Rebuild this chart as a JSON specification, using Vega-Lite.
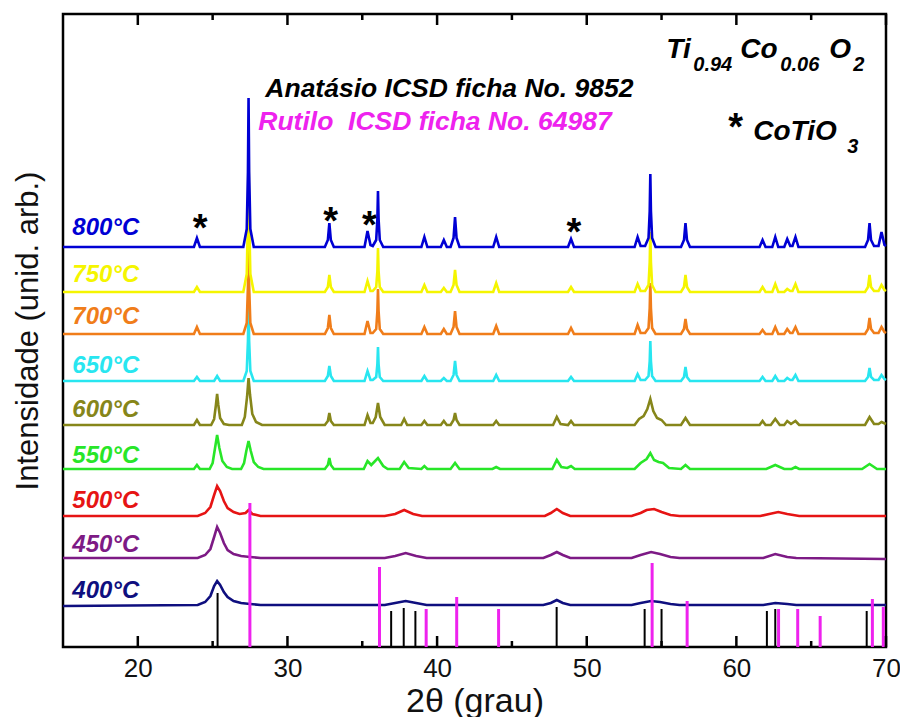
{
"$schema":"https://vega.github.io/schema/vega-lite/v6.json",
"width":823,"height":633,
"autosize":{"type":"none"},
"padding":{"left":63,"top":14,"right":14,"bottom":70},
"background":"white",
"config":{"view":{"stroke":"black","strokeWidth":2.5},"font":"Liberation Sans"},
"datasets":{
"tr":[
{"s":"400°C","x":15,"y":41},{"s":"400°C","x":24.0,"y":42},{"s":"400°C","x":24.5,"y":45},{"s":"400°C","x":24.85,"y":51},{"s":"400°C","x":25.1,"y":61},{"s":"400°C","x":25.3,"y":66},{"s":"400°C","x":25.5,"y":62},{"s":"400°C","x":25.75,"y":55},{"s":"400°C","x":26.0,"y":50},{"s":"400°C","x":26.4,"y":46},{"s":"400°C","x":26.9,"y":44},{"s":"400°C","x":27.5,"y":43},{"s":"400°C","x":28.2,"y":42},{"s":"400°C","x":36.5,"y":42},{"s":"400°C","x":37.2,"y":44},{"s":"400°C","x":37.9,"y":46},{"s":"400°C","x":38.6,"y":44},{"s":"400°C","x":39.3,"y":42},{"s":"400°C","x":47.1,"y":42},{"s":"400°C","x":47.6,"y":44},{"s":"400°C","x":48.0,"y":47},{"s":"400°C","x":48.4,"y":44},{"s":"400°C","x":48.9,"y":42},{"s":"400°C","x":53.0,"y":42},{"s":"400°C","x":53.6,"y":44},{"s":"400°C","x":54.3,"y":46},{"s":"400°C","x":54.9,"y":45},{"s":"400°C","x":55.6,"y":43},{"s":"400°C","x":56.2,"y":42},{"s":"400°C","x":61.8,"y":42},{"s":"400°C","x":62.6,"y":44},{"s":"400°C","x":63.4,"y":43},{"s":"400°C","x":64.0,"y":42},{"s":"400°C","x":70,"y":42},
{"s":"450°C","x":15,"y":89},{"s":"450°C","x":24.0,"y":89},{"s":"450°C","x":24.5,"y":92},{"s":"450°C","x":24.85,"y":98},{"s":"450°C","x":25.1,"y":110},{"s":"450°C","x":25.3,"y":120},{"s":"450°C","x":25.5,"y":114},{"s":"450°C","x":25.75,"y":104},{"s":"450°C","x":26.0,"y":97},{"s":"450°C","x":26.4,"y":93},{"s":"450°C","x":26.9,"y":91},{"s":"450°C","x":27.5,"y":90},{"s":"450°C","x":28.2,"y":89},{"s":"450°C","x":36.5,"y":89},{"s":"450°C","x":37.2,"y":91},{"s":"450°C","x":37.9,"y":94},{"s":"450°C","x":38.6,"y":91},{"s":"450°C","x":39.3,"y":89},{"s":"450°C","x":47.1,"y":89},{"s":"450°C","x":47.6,"y":92},{"s":"450°C","x":48.0,"y":95},{"s":"450°C","x":48.4,"y":92},{"s":"450°C","x":48.9,"y":89},{"s":"450°C","x":53.0,"y":89},{"s":"450°C","x":53.6,"y":92},{"s":"450°C","x":54.3,"y":95},{"s":"450°C","x":54.9,"y":93},{"s":"450°C","x":55.6,"y":90},{"s":"450°C","x":56.2,"y":89},{"s":"450°C","x":61.8,"y":89},{"s":"450°C","x":62.6,"y":93},{"s":"450°C","x":63.4,"y":90},{"s":"450°C","x":64.0,"y":89},{"s":"450°C","x":70,"y":88},
{"s":"500°C","x":15,"y":131},{"s":"500°C","x":24.0,"y":131},{"s":"500°C","x":24.5,"y":134},{"s":"500°C","x":24.85,"y":140},{"s":"500°C","x":25.1,"y":152},{"s":"500°C","x":25.3,"y":161},{"s":"500°C","x":25.5,"y":156},{"s":"500°C","x":25.75,"y":146},{"s":"500°C","x":26.0,"y":139},{"s":"500°C","x":26.4,"y":135},{"s":"500°C","x":26.8,"y":133},{"s":"500°C","x":27.2,"y":134},{"s":"500°C","x":27.4,"y":137},{"s":"500°C","x":27.65,"y":133},{"s":"500°C","x":28.2,"y":131},{"s":"500°C","x":36.5,"y":131},{"s":"500°C","x":37.2,"y":133},{"s":"500°C","x":37.8,"y":137},{"s":"500°C","x":38.4,"y":133},{"s":"500°C","x":39.0,"y":131},{"s":"500°C","x":47.2,"y":131},{"s":"500°C","x":47.6,"y":134},{"s":"500°C","x":48.0,"y":138},{"s":"500°C","x":48.4,"y":134},{"s":"500°C","x":48.9,"y":131},{"s":"500°C","x":53.0,"y":131},{"s":"500°C","x":53.6,"y":134},{"s":"500°C","x":54.0,"y":137},{"s":"500°C","x":54.5,"y":138},{"s":"500°C","x":55.0,"y":135},{"s":"500°C","x":55.6,"y":132},{"s":"500°C","x":56.2,"y":131},{"s":"500°C","x":61.6,"y":131},{"s":"500°C","x":62.2,"y":133},{"s":"500°C","x":62.8,"y":135},{"s":"500°C","x":63.4,"y":133},{"s":"500°C","x":64.2,"y":131},{"s":"500°C","x":70,"y":131},
{"s":"550°C","x":15,"y":178},{"s":"550°C","x":23.75,"y":178},{"s":"550°C","x":23.95,"y":182},{"s":"550°C","x":24.15,"y":178},{"s":"550°C","x":24.8,"y":178},{"s":"550°C","x":25.0,"y":184},{"s":"550°C","x":25.15,"y":198},{"s":"550°C","x":25.3,"y":212},{"s":"550°C","x":25.45,"y":199},{"s":"550°C","x":25.65,"y":186},{"s":"550°C","x":25.95,"y":180},{"s":"550°C","x":26.3,"y":178},{"s":"550°C","x":26.9,"y":178},{"s":"550°C","x":27.1,"y":184},{"s":"550°C","x":27.25,"y":196},{"s":"550°C","x":27.4,"y":206},{"s":"550°C","x":27.55,"y":196},{"s":"550°C","x":27.75,"y":185},{"s":"550°C","x":28.05,"y":180},{"s":"550°C","x":28.4,"y":178},{"s":"550°C","x":32.5,"y":178},{"s":"550°C","x":32.7,"y":182},{"s":"550°C","x":32.8,"y":189},{"s":"550°C","x":32.9,"y":182},{"s":"550°C","x":33.1,"y":178},{"s":"550°C","x":35.1,"y":178},{"s":"550°C","x":35.35,"y":186},{"s":"550°C","x":35.6,"y":182},{"s":"550°C","x":36.05,"y":189},{"s":"550°C","x":36.4,"y":181},{"s":"550°C","x":36.7,"y":178},{"s":"550°C","x":37.5,"y":178},{"s":"550°C","x":37.8,"y":185},{"s":"550°C","x":38.1,"y":179},{"s":"550°C","x":38.95,"y":178},{"s":"550°C","x":39.15,"y":181},{"s":"550°C","x":39.35,"y":178},{"s":"550°C","x":40.9,"y":178},{"s":"550°C","x":41.2,"y":184},{"s":"550°C","x":41.5,"y":178},{"s":"550°C","x":43.7,"y":178},{"s":"550°C","x":43.95,"y":180},{"s":"550°C","x":44.2,"y":178},{"s":"550°C","x":47.7,"y":178},{"s":"550°C","x":48.0,"y":187},{"s":"550°C","x":48.3,"y":180},{"s":"550°C","x":48.7,"y":179},{"s":"550°C","x":48.95,"y":181},{"s":"550°C","x":49.2,"y":178},{"s":"550°C","x":53.2,"y":178},{"s":"550°C","x":53.6,"y":184},{"s":"550°C","x":54.0,"y":188},{"s":"550°C","x":54.25,"y":194},{"s":"550°C","x":54.5,"y":187},{"s":"550°C","x":54.8,"y":185},{"s":"550°C","x":55.1,"y":184},{"s":"550°C","x":55.5,"y":179},{"s":"550°C","x":56.3,"y":178},{"s":"550°C","x":56.6,"y":182},{"s":"550°C","x":56.9,"y":178},{"s":"550°C","x":62.0,"y":178},{"s":"550°C","x":62.6,"y":182},{"s":"550°C","x":63.2,"y":178},{"s":"550°C","x":63.7,"y":178},{"s":"550°C","x":63.95,"y":180},{"s":"550°C","x":64.2,"y":178},{"s":"550°C","x":68.4,"y":178},{"s":"550°C","x":68.9,"y":183},{"s":"550°C","x":69.4,"y":178},{"s":"550°C","x":70,"y":178},
{"s":"600°C","x":15,"y":222},{"s":"600°C","x":23.75,"y":222},{"s":"600°C","x":23.95,"y":227},{"s":"600°C","x":24.15,"y":222},{"s":"600°C","x":24.9,"y":222},{"s":"600°C","x":25.1,"y":228},{"s":"600°C","x":25.22,"y":242},{"s":"600°C","x":25.3,"y":253},{"s":"600°C","x":25.38,"y":242},{"s":"600°C","x":25.5,"y":229},{"s":"600°C","x":25.75,"y":223},{"s":"600°C","x":26.1,"y":222},{"s":"600°C","x":26.95,"y":222},{"s":"600°C","x":27.15,"y":230},{"s":"600°C","x":27.3,"y":250},{"s":"600°C","x":27.4,"y":269},{"s":"600°C","x":27.5,"y":252},{"s":"600°C","x":27.65,"y":233},{"s":"600°C","x":27.9,"y":225},{"s":"600°C","x":28.3,"y":222},{"s":"600°C","x":32.5,"y":222},{"s":"600°C","x":32.7,"y":226},{"s":"600°C","x":32.8,"y":234},{"s":"600°C","x":32.9,"y":226},{"s":"600°C","x":33.1,"y":222},{"s":"600°C","x":35.15,"y":222},{"s":"600°C","x":35.35,"y":232},{"s":"600°C","x":35.55,"y":224},{"s":"600°C","x":35.7,"y":224},{"s":"600°C","x":35.9,"y":230},{"s":"600°C","x":36.05,"y":244},{"s":"600°C","x":36.2,"y":230},{"s":"600°C","x":36.5,"y":222},{"s":"600°C","x":37.6,"y":222},{"s":"600°C","x":37.8,"y":228},{"s":"600°C","x":38.0,"y":222},{"s":"600°C","x":38.95,"y":222},{"s":"600°C","x":39.15,"y":226},{"s":"600°C","x":39.35,"y":222},{"s":"600°C","x":40.25,"y":222},{"s":"600°C","x":40.45,"y":226},{"s":"600°C","x":40.65,"y":222},{"s":"600°C","x":40.9,"y":222},{"s":"600°C","x":41.1,"y":227},{"s":"600°C","x":41.2,"y":234},{"s":"600°C","x":41.3,"y":227},{"s":"600°C","x":41.5,"y":222},{"s":"600°C","x":43.75,"y":222},{"s":"600°C","x":43.95,"y":226},{"s":"600°C","x":44.15,"y":222},{"s":"600°C","x":47.75,"y":222},{"s":"600°C","x":48.0,"y":230},{"s":"600°C","x":48.25,"y":223},{"s":"600°C","x":48.75,"y":222},{"s":"600°C","x":48.95,"y":226},{"s":"600°C","x":49.15,"y":222},{"s":"600°C","x":53.2,"y":222},{"s":"600°C","x":53.5,"y":228},{"s":"600°C","x":53.8,"y":231},{"s":"600°C","x":54.05,"y":238},{"s":"600°C","x":54.25,"y":248},{"s":"600°C","x":54.45,"y":236},{"s":"600°C","x":54.7,"y":229},{"s":"600°C","x":55.0,"y":227},{"s":"600°C","x":55.3,"y":222},{"s":"600°C","x":56.3,"y":222},{"s":"600°C","x":56.6,"y":229},{"s":"600°C","x":56.9,"y":222},{"s":"600°C","x":61.55,"y":222},{"s":"600°C","x":61.75,"y":226},{"s":"600°C","x":61.95,"y":222},{"s":"600°C","x":62.3,"y":222},{"s":"600°C","x":62.6,"y":228},{"s":"600°C","x":62.9,"y":222},{"s":"600°C","x":63.2,"y":222},{"s":"600°C","x":63.4,"y":226},{"s":"600°C","x":63.65,"y":223},{"s":"600°C","x":63.95,"y":226},{"s":"600°C","x":64.2,"y":222},{"s":"600°C","x":68.6,"y":222},{"s":"600°C","x":68.9,"y":230},{"s":"600°C","x":69.2,"y":223},{"s":"600°C","x":69.5,"y":223},{"s":"600°C","x":69.7,"y":225},{"s":"600°C","x":70,"y":223},
{"s":"650°C","x":15,"y":266},{"s":"650°C","x":23.75,"y":266},{"s":"650°C","x":23.95,"y":270},{"s":"650°C","x":24.15,"y":266},{"s":"650°C","x":25.1,"y":266},{"s":"650°C","x":25.3,"y":271},{"s":"650°C","x":25.5,"y":266},{"s":"650°C","x":27.05,"y":266},{"s":"650°C","x":27.28,"y":276},{"s":"650°C","x":27.36,"y":306},{"s":"650°C","x":27.4,"y":346},{"s":"650°C","x":27.44,"y":306},{"s":"650°C","x":27.52,"y":276},{"s":"650°C","x":27.75,"y":266},{"s":"650°C","x":32.5,"y":266},{"s":"650°C","x":32.7,"y":271},{"s":"650°C","x":32.8,"y":281},{"s":"650°C","x":32.9,"y":271},{"s":"650°C","x":33.1,"y":266},{"s":"650°C","x":35.15,"y":266},{"s":"650°C","x":35.35,"y":276},{"s":"650°C","x":35.55,"y":267},{"s":"650°C","x":35.7,"y":267},{"s":"650°C","x":35.93,"y":270},{"s":"650°C","x":36.01,"y":283},{"s":"650°C","x":36.05,"y":300},{"s":"650°C","x":36.09,"y":283},{"s":"650°C","x":36.17,"y":270},{"s":"650°C","x":36.4,"y":266},{"s":"650°C","x":38.95,"y":266},{"s":"650°C","x":39.15,"y":271},{"s":"650°C","x":39.35,"y":266},{"s":"650°C","x":40.25,"y":266},{"s":"650°C","x":40.45,"y":269},{"s":"650°C","x":40.65,"y":266},{"s":"650°C","x":40.9,"y":266},{"s":"650°C","x":41.1,"y":272},{"s":"650°C","x":41.2,"y":286},{"s":"650°C","x":41.3,"y":272},{"s":"650°C","x":41.5,"y":266},{"s":"650°C","x":43.75,"y":266},{"s":"650°C","x":43.95,"y":272},{"s":"650°C","x":44.15,"y":266},{"s":"650°C","x":48.75,"y":266},{"s":"650°C","x":48.95,"y":270},{"s":"650°C","x":49.15,"y":266},{"s":"650°C","x":53.2,"y":266},{"s":"650°C","x":53.4,"y":273},{"s":"650°C","x":53.6,"y":267},{"s":"650°C","x":53.9,"y":267},{"s":"650°C","x":54.13,"y":271},{"s":"650°C","x":54.21,"y":286},{"s":"650°C","x":54.25,"y":306},{"s":"650°C","x":54.29,"y":286},{"s":"650°C","x":54.37,"y":271},{"s":"650°C","x":54.6,"y":266},{"s":"650°C","x":56.3,"y":266},{"s":"650°C","x":56.5,"y":270},{"s":"650°C","x":56.6,"y":280},{"s":"650°C","x":56.7,"y":270},{"s":"650°C","x":56.9,"y":266},{"s":"650°C","x":61.55,"y":266},{"s":"650°C","x":61.75,"y":270},{"s":"650°C","x":61.95,"y":266},{"s":"650°C","x":62.4,"y":266},{"s":"650°C","x":62.6,"y":271},{"s":"650°C","x":62.8,"y":266},{"s":"650°C","x":63.2,"y":266},{"s":"650°C","x":63.4,"y":269},{"s":"650°C","x":63.6,"y":267},{"s":"650°C","x":63.75,"y":267},{"s":"650°C","x":63.95,"y":272},{"s":"650°C","x":64.15,"y":266},{"s":"650°C","x":68.6,"y":266},{"s":"650°C","x":68.8,"y":270},{"s":"650°C","x":68.9,"y":279},{"s":"650°C","x":69.0,"y":270},{"s":"650°C","x":69.2,"y":267},{"s":"650°C","x":69.5,"y":267},{"s":"650°C","x":69.7,"y":272},{"s":"650°C","x":69.9,"y":268},{"s":"650°C","x":70,"y":267},
{"s":"700°C","x":15,"y":313},{"s":"700°C","x":23.75,"y":313},{"s":"700°C","x":23.95,"y":320},{"s":"700°C","x":24.15,"y":313},{"s":"700°C","x":27.05,"y":313},{"s":"700°C","x":27.28,"y":324},{"s":"700°C","x":27.36,"y":361},{"s":"700°C","x":27.4,"y":408},{"s":"700°C","x":27.44,"y":361},{"s":"700°C","x":27.52,"y":324},{"s":"700°C","x":27.75,"y":313},{"s":"700°C","x":32.5,"y":313},{"s":"700°C","x":32.7,"y":319},{"s":"700°C","x":32.8,"y":332},{"s":"700°C","x":32.9,"y":319},{"s":"700°C","x":33.1,"y":313},{"s":"700°C","x":35.15,"y":313},{"s":"700°C","x":35.35,"y":326},{"s":"700°C","x":35.55,"y":314},{"s":"700°C","x":35.7,"y":314},{"s":"700°C","x":35.93,"y":318},{"s":"700°C","x":36.01,"y":336},{"s":"700°C","x":36.05,"y":358},{"s":"700°C","x":36.09,"y":336},{"s":"700°C","x":36.17,"y":318},{"s":"700°C","x":36.4,"y":313},{"s":"700°C","x":38.95,"y":313},{"s":"700°C","x":39.15,"y":320},{"s":"700°C","x":39.35,"y":313},{"s":"700°C","x":40.25,"y":313},{"s":"700°C","x":40.45,"y":318},{"s":"700°C","x":40.65,"y":313},{"s":"700°C","x":40.9,"y":313},{"s":"700°C","x":41.1,"y":320},{"s":"700°C","x":41.2,"y":336},{"s":"700°C","x":41.3,"y":320},{"s":"700°C","x":41.5,"y":313},{"s":"700°C","x":43.75,"y":313},{"s":"700°C","x":43.95,"y":321},{"s":"700°C","x":44.15,"y":313},{"s":"700°C","x":48.75,"y":313},{"s":"700°C","x":48.95,"y":319},{"s":"700°C","x":49.15,"y":313},{"s":"700°C","x":53.2,"y":313},{"s":"700°C","x":53.4,"y":322},{"s":"700°C","x":53.6,"y":314},{"s":"700°C","x":53.9,"y":314},{"s":"700°C","x":54.13,"y":319},{"s":"700°C","x":54.21,"y":339},{"s":"700°C","x":54.25,"y":364},{"s":"700°C","x":54.29,"y":339},{"s":"700°C","x":54.37,"y":319},{"s":"700°C","x":54.6,"y":313},{"s":"700°C","x":56.3,"y":313},{"s":"700°C","x":56.5,"y":318},{"s":"700°C","x":56.6,"y":328},{"s":"700°C","x":56.7,"y":318},{"s":"700°C","x":56.9,"y":313},{"s":"700°C","x":61.55,"y":313},{"s":"700°C","x":61.75,"y":317},{"s":"700°C","x":61.95,"y":313},{"s":"700°C","x":62.4,"y":313},{"s":"700°C","x":62.6,"y":320},{"s":"700°C","x":62.8,"y":313},{"s":"700°C","x":63.2,"y":313},{"s":"700°C","x":63.4,"y":318},{"s":"700°C","x":63.6,"y":314},{"s":"700°C","x":63.75,"y":314},{"s":"700°C","x":63.95,"y":320},{"s":"700°C","x":64.15,"y":313},{"s":"700°C","x":68.6,"y":313},{"s":"700°C","x":68.8,"y":318},{"s":"700°C","x":68.9,"y":329},{"s":"700°C","x":69.0,"y":318},{"s":"700°C","x":69.2,"y":314},{"s":"700°C","x":69.5,"y":314},{"s":"700°C","x":69.7,"y":320},{"s":"700°C","x":69.9,"y":315},{"s":"700°C","x":70,"y":314},
{"s":"750°C","x":15,"y":355},{"s":"750°C","x":23.75,"y":355},{"s":"750°C","x":23.95,"y":360},{"s":"750°C","x":24.15,"y":355},{"s":"750°C","x":27.05,"y":355},{"s":"750°C","x":27.28,"y":373},{"s":"750°C","x":27.36,"y":430},{"s":"750°C","x":27.4,"y":505},{"s":"750°C","x":27.44,"y":430},{"s":"750°C","x":27.52,"y":373},{"s":"750°C","x":27.75,"y":355},{"s":"750°C","x":32.5,"y":355},{"s":"750°C","x":32.7,"y":360},{"s":"750°C","x":32.8,"y":372},{"s":"750°C","x":32.9,"y":360},{"s":"750°C","x":33.1,"y":355},{"s":"750°C","x":35.15,"y":355},{"s":"750°C","x":35.35,"y":366},{"s":"750°C","x":35.55,"y":356},{"s":"750°C","x":35.7,"y":356},{"s":"750°C","x":35.93,"y":360},{"s":"750°C","x":36.01,"y":376},{"s":"750°C","x":36.05,"y":399},{"s":"750°C","x":36.09,"y":376},{"s":"750°C","x":36.17,"y":360},{"s":"750°C","x":36.4,"y":355},{"s":"750°C","x":38.95,"y":355},{"s":"750°C","x":39.15,"y":362},{"s":"750°C","x":39.35,"y":355},{"s":"750°C","x":40.25,"y":355},{"s":"750°C","x":40.45,"y":359},{"s":"750°C","x":40.65,"y":355},{"s":"750°C","x":40.9,"y":355},{"s":"750°C","x":41.1,"y":362},{"s":"750°C","x":41.2,"y":377},{"s":"750°C","x":41.3,"y":362},{"s":"750°C","x":41.5,"y":355},{"s":"750°C","x":43.75,"y":355},{"s":"750°C","x":43.95,"y":364},{"s":"750°C","x":44.15,"y":355},{"s":"750°C","x":48.75,"y":355},{"s":"750°C","x":48.95,"y":360},{"s":"750°C","x":49.15,"y":355},{"s":"750°C","x":53.2,"y":355},{"s":"750°C","x":53.4,"y":363},{"s":"750°C","x":53.6,"y":356},{"s":"750°C","x":53.9,"y":356},{"s":"750°C","x":54.13,"y":362},{"s":"750°C","x":54.21,"y":385},{"s":"750°C","x":54.25,"y":415},{"s":"750°C","x":54.29,"y":385},{"s":"750°C","x":54.37,"y":362},{"s":"750°C","x":54.6,"y":355},{"s":"750°C","x":56.3,"y":355},{"s":"750°C","x":56.5,"y":360},{"s":"750°C","x":56.6,"y":372},{"s":"750°C","x":56.7,"y":360},{"s":"750°C","x":56.9,"y":355},{"s":"750°C","x":61.55,"y":355},{"s":"750°C","x":61.75,"y":360},{"s":"750°C","x":61.95,"y":355},{"s":"750°C","x":62.4,"y":355},{"s":"750°C","x":62.6,"y":363},{"s":"750°C","x":62.8,"y":355},{"s":"750°C","x":63.2,"y":355},{"s":"750°C","x":63.4,"y":358},{"s":"750°C","x":63.6,"y":356},{"s":"750°C","x":63.75,"y":356},{"s":"750°C","x":63.95,"y":363},{"s":"750°C","x":64.15,"y":355},{"s":"750°C","x":68.6,"y":355},{"s":"750°C","x":68.8,"y":360},{"s":"750°C","x":68.9,"y":372},{"s":"750°C","x":69.0,"y":360},{"s":"750°C","x":69.2,"y":356},{"s":"750°C","x":69.5,"y":356},{"s":"750°C","x":69.7,"y":362},{"s":"750°C","x":69.9,"y":357},{"s":"750°C","x":70,"y":356},
{"s":"800°C","x":15,"y":400},{"s":"800°C","x":23.75,"y":400},{"s":"800°C","x":23.95,"y":409},{"s":"800°C","x":24.15,"y":400},{"s":"800°C","x":27.05,"y":400},{"s":"800°C","x":27.28,"y":418},{"s":"800°C","x":27.36,"y":475},{"s":"800°C","x":27.4,"y":549},{"s":"800°C","x":27.44,"y":475},{"s":"800°C","x":27.52,"y":418},{"s":"800°C","x":27.75,"y":400},{"s":"800°C","x":32.5,"y":400},{"s":"800°C","x":32.7,"y":407},{"s":"800°C","x":32.8,"y":424},{"s":"800°C","x":32.9,"y":407},{"s":"800°C","x":33.1,"y":400},{"s":"800°C","x":35.15,"y":400},{"s":"800°C","x":35.35,"y":416},{"s":"800°C","x":35.55,"y":402},{"s":"800°C","x":35.7,"y":401},{"s":"800°C","x":35.93,"y":407},{"s":"800°C","x":36.01,"y":428},{"s":"800°C","x":36.05,"y":456},{"s":"800°C","x":36.09,"y":428},{"s":"800°C","x":36.17,"y":407},{"s":"800°C","x":36.4,"y":400},{"s":"800°C","x":38.95,"y":400},{"s":"800°C","x":39.15,"y":410},{"s":"800°C","x":39.35,"y":400},{"s":"800°C","x":40.25,"y":400},{"s":"800°C","x":40.45,"y":407},{"s":"800°C","x":40.65,"y":400},{"s":"800°C","x":40.9,"y":400},{"s":"800°C","x":41.1,"y":409},{"s":"800°C","x":41.2,"y":430},{"s":"800°C","x":41.3,"y":409},{"s":"800°C","x":41.5,"y":400},{"s":"800°C","x":43.75,"y":400},{"s":"800°C","x":43.95,"y":410},{"s":"800°C","x":44.15,"y":400},{"s":"800°C","x":48.75,"y":400},{"s":"800°C","x":48.95,"y":408},{"s":"800°C","x":49.15,"y":400},{"s":"800°C","x":53.2,"y":400},{"s":"800°C","x":53.4,"y":410},{"s":"800°C","x":53.6,"y":401},{"s":"800°C","x":53.9,"y":401},{"s":"800°C","x":54.13,"y":409},{"s":"800°C","x":54.21,"y":436},{"s":"800°C","x":54.25,"y":473},{"s":"800°C","x":54.29,"y":436},{"s":"800°C","x":54.37,"y":409},{"s":"800°C","x":54.6,"y":400},{"s":"800°C","x":56.3,"y":400},{"s":"800°C","x":56.5,"y":407},{"s":"800°C","x":56.6,"y":424},{"s":"800°C","x":56.7,"y":407},{"s":"800°C","x":56.9,"y":400},{"s":"800°C","x":61.55,"y":400},{"s":"800°C","x":61.75,"y":407},{"s":"800°C","x":61.95,"y":400},{"s":"800°C","x":62.4,"y":400},{"s":"800°C","x":62.6,"y":410},{"s":"800°C","x":62.8,"y":400},{"s":"800°C","x":63.2,"y":400},{"s":"800°C","x":63.4,"y":408},{"s":"800°C","x":63.6,"y":401},{"s":"800°C","x":63.75,"y":401},{"s":"800°C","x":63.95,"y":410},{"s":"800°C","x":64.15,"y":400},{"s":"800°C","x":68.6,"y":400},{"s":"800°C","x":68.8,"y":407},{"s":"800°C","x":68.9,"y":424},{"s":"800°C","x":69.0,"y":407},{"s":"800°C","x":69.2,"y":401},{"s":"800°C","x":69.5,"y":401},{"s":"800°C","x":69.7,"y":415},{"s":"800°C","x":69.9,"y":402},{"s":"800°C","x":70,"y":401}
],
"an":[{"x":25.33,"h":54},{"x":36.93,"h":36},{"x":37.77,"h":39},{"x":38.55,"h":36},{"x":47.99,"h":40},{"x":53.87,"h":38},{"x":55.0,"h":38},{"x":62.04,"h":36},{"x":62.6,"h":38},{"x":68.71,"h":36}],
"ru":[{"x":27.49,"h":144},{"x":36.15,"h":80},{"x":39.27,"h":38},{"x":41.31,"h":50},{"x":44.11,"h":38},{"x":54.37,"h":84},{"x":56.71,"h":46},{"x":62.82,"h":38},{"x":64.1,"h":38},{"x":65.6,"h":31},{"x":69.09,"h":48},{"x":69.82,"h":40}],
"major":[{"x":20,"e":0},{"x":30,"e":0},{"x":40,"e":0},{"x":50,"e":0},{"x":60,"e":0},{"x":70,"e":0},{"x":20,"e":633},{"x":30,"e":633},{"x":40,"e":633},{"x":50,"e":633},{"x":60,"e":633},{"x":70,"e":633}],
"minor":[{"x":25,"e":0},{"x":35,"e":0},{"x":45,"e":0},{"x":55,"e":0},{"x":65,"e":0},{"x":25,"e":633},{"x":35,"e":633},{"x":45,"e":633},{"x":55,"e":633},{"x":65,"e":633}],
"lb":[{"t":"800°C","x":15.62,"y":412,"c":"#0000d4"},{"t":"750°C","x":15.62,"y":365,"c":"#f5f500"},{"t":"700°C","x":15.62,"y":323,"c":"#f07d1a"},{"t":"650°C","x":15.62,"y":274,"c":"#28e6f0"},{"t":"600°C","x":15.62,"y":230,"c":"#86861a"},{"t":"550°C","x":15.62,"y":184,"c":"#28e628"},{"t":"500°C","x":15.62,"y":139,"c":"#e61414"},{"t":"450°C","x":15.62,"y":95,"c":"#7d1a85"},{"t":"400°C","x":15.62,"y":49,"c":"#0f0f7f"}],
"tx":[{"t":"Anatásio ICSD ficha No. 9852","x":28.52,"y":550,"fs":26.5,"c":"#000000"},{"t":"Rutilo\u00a0 ICSD ficha No. 64987","x":28.05,"y":517,"fs":26.5,"c":"#ee22ee"},{"t":"Ti","x":55.32,"y":589,"fs":28,"c":"#000000"},{"t":"0.94","x":57.12,"y":576,"fs":20,"c":"#000000"},{"t":"Co","x":60.26,"y":589,"fs":28,"c":"#000000"},{"t":"0.06","x":62.94,"y":576,"fs":20,"c":"#000000"},{"t":"O","x":66.21,"y":589,"fs":28,"c":"#000000"},{"t":"2","x":67.81,"y":576,"fs":20,"c":"#000000"},{"t":"CoTiO","x":61.13,"y":507,"fs":28,"c":"#000000"},{"t":"3","x":67.41,"y":494,"fs":20,"c":"#000000"}],
"st":[{"x":24.16,"y":406},{"x":32.88,"y":413},{"x":35.48,"y":409},{"x":49.14,"y":402},{"x":59.96,"y":507}]
},
"layer":[
{"data":{"name":"tr"},"mark":{"type":"line","strokeWidth":2.6},
 "encoding":{
  "x":{"field":"x","type":"quantitative","scale":{"domain":[15,70],"nice":false,"zero":false},
   "axis":{"orient":"bottom","title":"2θ (grau)","values":[20,30,40,50,60,70],"domain":false,"grid":false,"ticks":false,
    "labelFlush":false,"labelPadding":8,"labelFont":"Liberation Sans","labelFontSize":26,"labelColor":"#111",
    "titleFont":"Liberation Sans","titleFontSize":34,"titleFontWeight":"normal","titleColor":"#111","titlePadding":3}},
  "y":{"field":"y","type":"quantitative","scale":{"domain":[0,633],"nice":false,"zero":false},
   "axis":{"title":"Intensidade (unid. arb.)","ticks":false,"labels":false,"domain":false,"grid":false,
    "titleFont":"Liberation Sans","titleFontSize":31,"titleFontWeight":"normal","titleColor":"#111","titlePadding":19}},
  "color":{"field":"s","type":"nominal","legend":null,"scale":{"domain":["400°C","450°C","500°C","550°C","600°C","650°C","700°C","750°C","800°C"],"range":["#0f0f7f","#7d1a85","#e61414","#28e628","#86861a","#28e6f0","#f07d1a","#f5f500","#0000d4"]}}
 }},
{"data":{"name":"an"},"mark":{"type":"rule","color":"black","strokeWidth":2},
 "encoding":{"x":{"field":"x","type":"quantitative"},"y":{"field":"h","type":"quantitative"}}},
{"data":{"name":"ru"},"mark":{"type":"rule","color":"#ee22ee","strokeWidth":3},
 "encoding":{"x":{"field":"x","type":"quantitative"},"y":{"field":"h","type":"quantitative"}}},
{"data":{"name":"major"},"transform":[{"filter":"datum.e == 0"}],"mark":{"type":"tick","orient":"vertical","size":11,"thickness":2.5,"color":"black","opacity":1,"yOffset":-5.5},
 "encoding":{"x":{"field":"x","type":"quantitative"},"y":{"field":"e","type":"quantitative"}}},
{"data":{"name":"major"},"transform":[{"filter":"datum.e == 633"}],"mark":{"type":"tick","orient":"vertical","size":11,"thickness":2.5,"color":"black","opacity":1,"yOffset":5.5},
 "encoding":{"x":{"field":"x","type":"quantitative"},"y":{"field":"e","type":"quantitative"}}},
{"data":{"name":"minor"},"transform":[{"filter":"datum.e == 0"}],"mark":{"type":"tick","orient":"vertical","size":6,"thickness":2.5,"color":"black","opacity":1,"yOffset":-3},
 "encoding":{"x":{"field":"x","type":"quantitative"},"y":{"field":"e","type":"quantitative"}}},
{"data":{"name":"minor"},"transform":[{"filter":"datum.e == 633"}],"mark":{"type":"tick","orient":"vertical","size":6,"thickness":2.5,"color":"black","opacity":1,"yOffset":3},
 "encoding":{"x":{"field":"x","type":"quantitative"},"y":{"field":"e","type":"quantitative"}}},
{"data":{"name":"lb"},"mark":{"type":"text","align":"left","baseline":"alphabetic","font":"Liberation Sans","fontSize":24,"fontWeight":"bold","fontStyle":"italic"},
 "encoding":{
  "x":{"field":"x","type":"quantitative"},
  "y":{"field":"y","type":"quantitative"},
  "text":{"field":"t"},
  "color":{"field":"c","type":"nominal","scale":null}
 }},
{"data":{"name":"tx"},"mark":{"type":"text","align":"left","baseline":"alphabetic","font":"Liberation Sans","fontWeight":"bold","fontStyle":"italic"},
 "encoding":{
  "x":{"field":"x","type":"quantitative"},
  "y":{"field":"y","type":"quantitative"},
  "text":{"field":"t"},
  "size":{"field":"fs","type":"quantitative","scale":null},
  "color":{"field":"c","type":"nominal","scale":null}
 }},
{"data":{"name":"st"},"mark":{"type":"text","align":"center","baseline":"alphabetic","font":"Liberation Sans","fontSize":38,"fontWeight":"bold","color":"black"},
 "encoding":{
  "x":{"field":"x","type":"quantitative"},
  "y":{"field":"y","type":"quantitative"},
  "text":{"value":"*"}
 }}
]
}
